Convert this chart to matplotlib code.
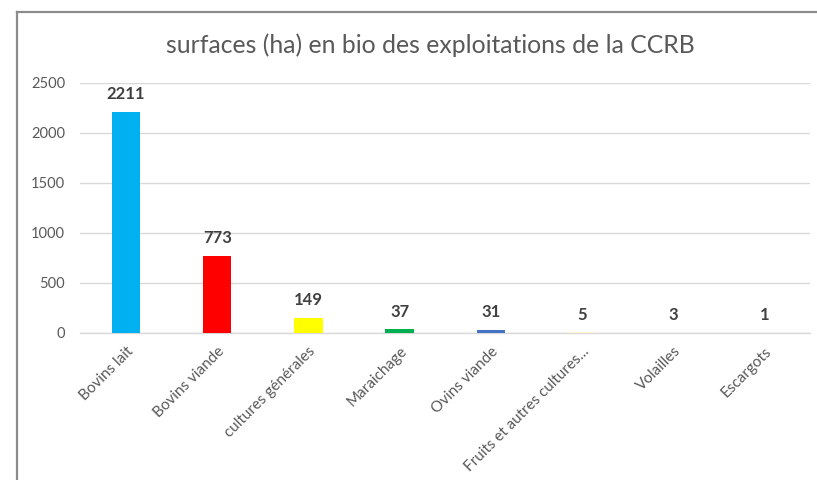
import matplotlib.pyplot as plt
from matplotlib.lines import Line2D

plt.rcParams['font.family'] = ['Lato', 'DejaVu Sans']

# ── Data ──────────────────────────────────────────────────────────────
categories = ['Bovins lait', 'Bovins viande', 'cultures générales', 'Maraichage',
              'Ovins viande', 'Fruits et autres cultures...', 'Volailles', 'Escargots']
surfaces = [2211, 773, 149, 37, 31, 5, 3, 1]
colors = ['#00B0F0', '#FF0000', '#FFFF00', '#00B050', '#4472C4',
          '#FFF2CC', '#F2F2F2', '#F2F2F2']
yticks = [0, 500, 1000, 1500, 2000, 2500]

fig = plt.figure(figsize=(8.17, 4.8), dpi=100)
ax = fig.add_axes([0.0984, 0.30625, 0.8930, 0.5209])

x = list(range(len(categories)))
bars = ax.bar(x, surfaces, width=0.31, color=colors, zorder=3)

ax.set_xlim(-0.5, len(categories) - 0.5)
ax.set_ylim(0, 2500)
ax.set_yticks(yticks)
ax.yaxis.grid(True, color='#D9D9D9', linewidth=1.0, zorder=0)
ax.set_axisbelow(True)
for s in ['top', 'right', 'left']:
    ax.spines[s].set_visible(False)
ax.spines['bottom'].set_color('#D9D9D9')
ax.spines['bottom'].set_linewidth(1.0)
ax.tick_params(axis='y', length=0, labelsize=10.5, labelcolor='#595959', pad=11)
ax.tick_params(axis='x', length=0, labelsize=11, labelcolor='#595959', pad=8)

ax.set_xticks(x)
ax.set_xticklabels(categories, rotation=45, ha='right', rotation_mode='anchor')

# value labels
for xi, v in zip(x, surfaces):
    ax.annotate(str(v), (xi, v), xytext=(0, 7), textcoords='offset points',
                ha='center', va='bottom', fontsize=12, fontweight='bold',
                color='#404040')

fig.text(0.527, 0.905, 'surfaces (ha) en bio des exploitations de la CCRB',
         ha='center', va='center', fontsize=17.8, color='#595959')

# chart frame (partially visible)
fig.add_artist(Line2D([0.0214, 0.0214], [0.0, 0.975], transform=fig.transFigure,
                      color='#8C8C8C', linewidth=1.6))
fig.add_artist(Line2D([0.0214, 1.0], [0.975, 0.975], transform=fig.transFigure,
                      color='#8C8C8C', linewidth=1.6))

plt.savefig('out.png', dpi=100)
